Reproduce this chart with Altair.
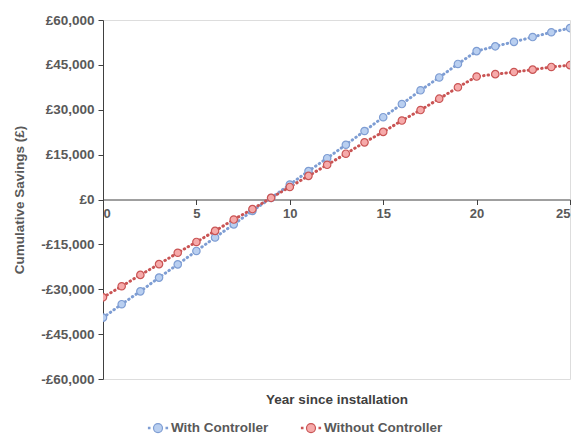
import altair as alt
import pandas as pd

years = list(range(0, 26))
with_controller = [-39500, -35000, -30700, -26100, -21700, -17200, -12700, -8300, -3800, 500,
                   5000, 9500, 13800, 18300, 22900, 27500, 31900, 36500, 40800, 45300,
                   49600, 51200, 52700, 54300, 55900, 57300]
without_controller = [-32700, -29000, -25200, -21600, -17800, -14200, -10500, -6700, -3200, 560,
                      4200, 7900, 11600, 15300, 19100, 22600, 26400, 29900, 33700, 37500,
                      41100, 41900, 42600, 43400, 44300, 44900]
series_names = ["With Controller", "Without Controller"]
fill_colors = ["#b9cff0", "#f6aaaa"]
stroke_colors = ["#7e9dd3", "#c95454"]

rows = []
for name, vals in zip(series_names, [with_controller, without_controller]):
    for y, v in zip(years, vals):
        rows.append({"year": y, "savings": v, "series": name})
df = pd.DataFrame(rows)

grey = "#595959"
font = "Liberation Sans"
H = 359
FS = 13.5

x = alt.X("year:Q", scale=alt.Scale(domain=[0, 25], nice=False),
          axis=alt.Axis(values=[0, 5, 10, 15, 20, 25], title="Year since installation",
                        offset=-H / 2, titleY=H / 2 + 20, titleBaseline="middle",
                        labelFontWeight="bold", labelFontSize=13, labelColor=grey,
                        titleFontWeight="bold", titleFontSize=FS, titleColor="#404040",
                        domainColor="#404040", tickColor="#404040", tickSize=5,
                        grid=False, labelPadding=3))
y = alt.Y("savings:Q", scale=alt.Scale(domain=[-60000, 60000], nice=False),
          axis=alt.Axis(values=[-60000, -45000, -30000, -15000, 0, 15000, 30000, 45000, 60000],
                        labelExpr="datum.value < 0 ? '-£' + format(-datum.value, ',') : '£' + format(datum.value, ',')",
                        title="Cumulative Savings (£)", titlePadding=14,
                        labelFontWeight="bold", labelFontSize=FS, labelColor=grey,
                        titleFontWeight="bold", titleFontSize=FS, titleColor=grey,
                        domainColor="#404040", tickColor="#404040", tickSize=5,
                        grid=False, labelPadding=4))

legend_symbol = ("M -0.45 0 A 0.45 0.45 0 1 0 0.45 0 A 0.45 0.45 0 1 0 -0.45 0 Z "
                 "M -0.95 -0.06 h 0.14 v 0.12 h -0.14 Z "
                 "M 0.81 -0.06 h 0.14 v 0.12 h -0.14 Z")

def make_legend():
    return alt.Legend(title=None, orient="none", legendX=44, legendY=H + 38,
                      direction="horizontal", symbolType=legend_symbol,
                      symbolSize=400, symbolStrokeWidth=1.2,
                      labelFont=font, labelFontSize=FS, labelFontWeight="bold",
                      labelColor=grey, columnPadding=30, labelOffset=2)

fill_enc = alt.Fill("series:N", scale=alt.Scale(domain=series_names, range=fill_colors),
                    legend=make_legend())
stroke_enc = alt.Stroke("series:N", scale=alt.Scale(domain=series_names, range=stroke_colors),
                        legend=make_legend())

base = alt.Chart(df)
lines = base.mark_line(strokeWidth=3, strokeDash=[0.5, 4], strokeCap="round", clip=True).encode(
    x=x, y=y, stroke=stroke_enc, detail="series:N")
points = base.mark_point(shape="circle", filled=True, size=55, strokeWidth=1.2, opacity=1,
                         clip=True).encode(x=x, y=y, fill=fill_enc, stroke=stroke_enc)

chart = alt.layer(lines, points).properties(
    width=467, height=H,
    autosize=alt.AutoSizeParams(type="none"),
    padding={"left": 95, "top": 12, "right": 1, "bottom": 60},
).configure_view(stroke="#404040", strokeWidth=1).configure(font=font)

chart.save("out.html", embed_options={"renderer": "svg", "actions": False})
